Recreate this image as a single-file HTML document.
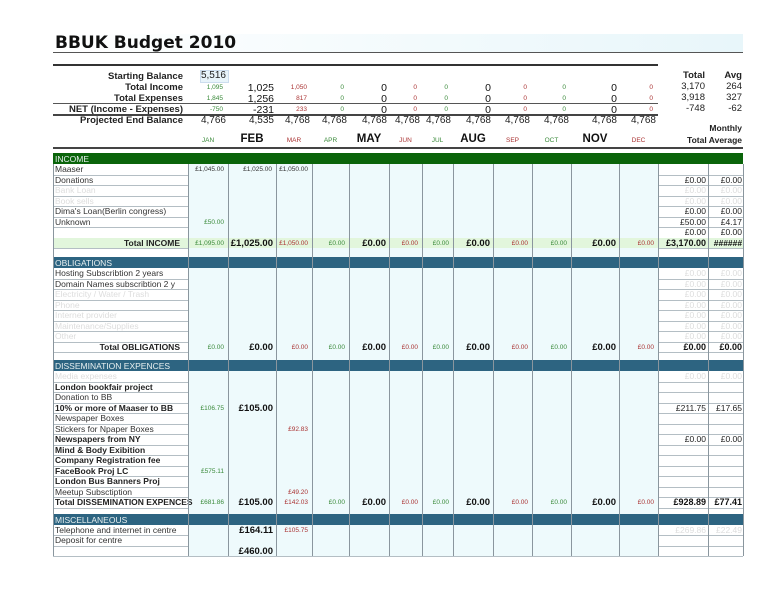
<!DOCTYPE html>
<html><head><meta charset="utf-8">
<style>
body{margin:0;width:768px;height:593px;background:#fff;position:relative;overflow:hidden;font-family:"Liberation Sans","DejaVu Sans",sans-serif;}
.a{position:absolute;white-space:nowrap;}
.h{position:absolute;height:1px;background:#b4bec4;}
.v{position:absolute;width:1px;background:#8a969e;}
</style></head><body>
<div class="a" style="left:53px;top:34px;width:690px;height:18px;background:linear-gradient(90deg,#fff,#e8f6fa);"></div>
<div class="a" style="left:55px;top:33px;font-size:17px;font-weight:bold;color:#111;font-family:'DejaVu Sans',sans-serif;">BBUK Budget 2010</div>
<div class="a" style="left:53px;top:52px;width:690px;height:1px;background:#555;"></div>
<div class="a" style="left:53px;top:64px;width:605px;height:2px;background:#333;"></div>
<div class="a" style="left:53px;top:103px;width:605px;height:1px;background:#555;"></div>
<div class="a" style="left:53px;top:114px;width:605px;height:2px;background:#444;"></div>
<div class="a" style="left:53px;top:147px;width:690px;height:2px;background:#444;"></div>
<div class="a" style="left:200px;top:70px;width:27px;height:11px;background:#e8f4fa;border:1px solid #cde;"></div>
<div id="root"></div>
<script>
var R=document.getElementById('root'),H='';
function t(x,y,s,st,al){H+='<div class="a" style="top:'+y+'px;'+(al=='c'?'left:'+(x-40)+'px;width:80px;text-align:center;':al=='l'?'left:'+x+'px;':'right:'+(768-x)+'px;')+st+'">'+s+'</div>';}
var B=[53,188,228,276,312,349,389,422,453,493,532,571,619,658,708,743];
var typ=['g','b','r','g','b','r','g','b','r','g','b','r'];
var ST={g:'font-size:6.5px;color:#3a8a3a;',r:'font-size:6.5px;color:#a33;',b:'font-size:10px;font-weight:bold;color:#111;',n:'font-size:9px;color:#222;',s:'font-size:6.5px;color:#333;',f:'font-size:9px;color:#ddd;'};
var sl=[['Starting Balance',71],['Total Income',82],['Total Expenses',93],['NET (Income - Expenses)',104],['Projected End Balance',115]];
sl.forEach(function(a){t(183,a[1],a[0],'font-size:9.5px;font-weight:bold;color:#222;');});
t(226,70,'5,516','font-size:10px;color:#222;');
var rowsS=[[82,['1,095','1,025','1,050']],[93,['1,845','1,256','817']],[104,['-750','-231','233']]];
rowsS.forEach(function(r){for(var i=0;i<12;i++){var v=r[1][i]||'0';var k=typ[i];t(B[i+2]-(k=='b'?2:5),r[0]+(k=='b'?0:2),v,k=='b'?'font-size:10.5px;color:#111;':ST[k]);}});
var pe=['4,766','4,535','4,768','4,768','4,768','4,768','4,768','4,768','4,768','4,768','4,768','4,768'];
for(var i=0;i<12;i++)t(B[i+2]-2,115,pe[i],'font-size:10px;color:#222;');
t(705,70,'Total','font-size:9.5px;font-weight:bold;color:#222;');t(742,70,'Avg','font-size:9.5px;font-weight:bold;color:#222;');
[['3,170','264',81],['3,918','327',92],['-748','-62',103]].forEach(function(a){t(705,a[2],a[0],'font-size:9.5px;color:#222;');t(742,a[2],a[1],'font-size:9.5px;color:#222;');});
t(742,123,'Monthly','font-size:8.5px;font-weight:bold;color:#222;');t(742,135,'Total Average','font-size:8.5px;font-weight:bold;color:#222;');
var mn=['JAN','FEB','MAR','APR','MAY','JUN','JUL','AUG','SEP','OCT','NOV','DEC'];
for(i=0;i<12;i++){var k=typ[i];t((B[i+1]+B[i+2])/2,k=='b'?133:137,mn[i],k=='b'?'font-size:11.5px;font-weight:bold;color:#111;':ST[k],'c');}
var rows=[];var y=153;
function hdr(n,c){rows.push({y:y,h:11,hdr:n,c:c});y+=11;}
function row(l,o){o=o||{};o.l=l;o.y=y;o.h=10.5;rows.push(o);y+=10.5;}
function gap(h){rows.push({y:y,h:h,gap:1});y+=h;}
var Z='£0.00';
hdr('INCOME','#0a640a');
row('Maaser',{v:{0:['£1,045.00','s'],1:['£1,025.00','s'],2:['£1,050.00','s']}});
row('Donations',{tot:[Z,Z]});
row('Bank Loan',{fade:1,tot:[Z,Z],tf:1});
row('Book sells',{fade:1,tot:[Z,Z],tf:1});
row("Dima's Loan(Berlin congress)",{tot:[Z,Z]});
row('Unknown',{v:{0:['£50.00','g']},tot:['£50.00','£4.17']});
row('',{tot:[Z,Z]});
var allZ=function(a){var o={};for(var i=0;i<12;i++)o[i]=[a&&a[i]?a[i]:Z,typ[i]];return o;};
row('Total INCOME',{tl:1,bg:'#e2f6dc',v:allZ(['£1,095.00','£1,025.00','£1,050.00']),tot:['£3,170.00','######'],tb:1});
gap(9);
hdr('OBLIGATIONS','#2d6481');
row('Hosting Subscribtion 2 years',{tot:[Z,Z],tf:1});
row('Domain Names subscribtion 2 y',{tot:[Z,Z],tf:1});
['Electricity / Water / Trash','Phone','Internet provider','Maintenance/Supplies','Other'].forEach(function(l){row(l,{fade:1,tot:[Z,Z],tf:1});});
row('Total OBLIGATIONS',{tl:1,v:allZ(),tot:[Z,Z],tb:1});
gap(8);
hdr('DISSEMINATION EXPENCES','#2d6481');
row('Media expenses',{fade:1,tot:[Z,Z],tf:1});
row('London bookfair project',{b:1});
row('Donation to BB');
row('10% or more of Maaser to BB',{b:1,v:{0:['£106.75','g'],1:['£105.00','b']},tot:['£211.75','£17.65']});
row('Newspaper Boxes');
row('Stickers for Npaper Boxes',{v:{2:['£92.83','r']}});
row('Newspapers from NY',{b:1,tot:[Z,Z]});
row('Mind &amp; Body Exibition',{b:1});
row('Company Registration fee',{b:1});
row('FaceBook Proj LC',{b:1,v:{0:['£575.11','g']}});
row('London Bus Banners Proj',{b:1});
row('Meetup Subsctiption',{v:{2:['£49.20','r']}});
row('Total DISSEMINATION EXPENCES',{b:1,v:allZ(['£681.86','£105.00','£142.03']),tot:['£928.89','£77.41'],tb:1});
gap(6);
hdr('MISCELLANEOUS','#2d6481');
row('Telephone and internet in centre',{v:{1:['£164.11','b'],2:['£105.75','r']},tot:['£269.86','£22.49'],tf:1});
row('Deposit for centre');
row('',{v:{1:['£460.00','b']}});
var end=y;
rows.forEach(function(r){
 var top=Math.round(r.y),h=Math.round(r.y+r.h)-top;
 if(r.hdr){H+='<div class="a" style="left:53px;top:'+top+'px;width:690px;height:'+h+'px;background:'+r.c+';"></div>';
  t(55,top+1,r.hdr,'font-size:8.5px;color:#e8f0f0;','l');return;}
 if(r.gap){H+='<div class="a" style="left:188px;top:'+top+'px;width:470px;height:'+h+'px;background:#eefafc;"></div>';return;}
 H+='<div class="a" style="left:188px;top:'+top+'px;width:470px;height:'+h+'px;background:'+(r.bg||'#eefafc')+';"></div>';
 if(r.bg)H+='<div class="a" style="left:53px;top:'+top+'px;width:690px;height:'+h+'px;background:'+r.bg+';"></div>';
 H+='<div class="h" style="left:53px;width:690px;top:'+(top+h)+'px;"></div>';
 var ls=r.fade?'font-size:8.5px;color:#ddd;':(r.b||r.tl?'font-size:8.5px;font-weight:bold;color:#222;':'font-size:8.5px;color:#333;');
 if(r.tl)t(180,top,r.l,ls);else t(55,top,r.l,ls,'l');
 if(r.v)for(var k in r.v){var c=+k,vv=r.v[k],s=vv[1];t(B[c+2]-(s=='b'?3:4),top+(s=='b'?0:2),vv[0],s=='b'?'font-size:9.5px;font-weight:bold;color:#111;':ST[s]);}
 if(r.tot){var ss=r.tf?'font-size:8.5px;color:#ddd;':(r.tb?'font-size:9px;font-weight:bold;color:#111;':'font-size:8.5px;color:#222;');t(706,top,r.tot[0],ss);t(742,top,r.tot[1],r.tot[1]=='######'?'font-size:8.5px;font-weight:bold;font-style:italic;color:#111;':ss);}
});
for(i=0;i<B.length;i++){H+='<div class="v" style="left:'+B[i]+'px;top:164px;height:'+(end-164)+'px;"></div>';}
R.innerHTML=H;
</script>
</body></html>
